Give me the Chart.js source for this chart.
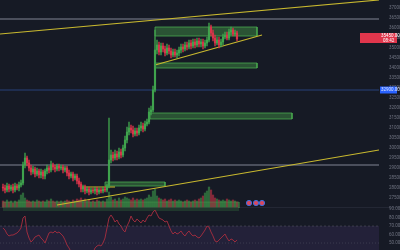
<!DOCTYPE html>
<html><head><meta charset="utf-8">
<script src="https://cdn.jsdelivr.net/npm/chart.js@4.4.1/dist/chart.umd.min.js"></script>
<style>html,body{margin:0;padding:0;background:#161a25;overflow:hidden}#wrap{width:400px;height:250px;position:relative}</style>
</head><body><div id="wrap"><canvas id="c" width="400" height="250"></canvas></div>
<script>
const openP = [28050,28000,27900,28100,27950,28050,27900,28100,28000,28150,
28250,29150,29500,29250,29000,28800,28950,28700,28850,28650,
28800,28600,28850,29000,28900,29150,29050,28950,29100,29000,
29050,28900,29000,28750,28600,28700,28500,28600,28350,28200,
27950,28050,27850,27950,27800,27900,27850,27950,27800,27900,
27850,27950,27900,28100,29400,29650,29500,29700,29550,29800,
29650,30000,30400,30800,31000,30900,30700,30850,30750,31000,
31100,30950,31200,31300,31800,31900,32900,34900,35150,34800,
35100,34950,34750,35000,34850,34650,34800,34650,34750,34900,
35050,34950,35150,35050,35250,35100,35300,35150,35350,35200,
35300,35100,35250,35400,36050,35750,35500,35250,35400,35150,
35300,35550,35650,35500,35800,35900,35700,35750];
const highP = [28200,28150,28250,28200,28150,28200,28250,28200,28300,28400,
29300,29750,29600,29400,29150,29100,29050,29000,28950,28950,
28900,28950,29150,29100,29350,29250,29150,29200,29200,29150,
29150,29100,29100,28900,28800,28800,28700,28700,28500,28300,
28150,28150,28050,28050,28000,28000,28050,28050,28000,28000,
28050,28050,28200,31500,29900,29800,29900,29850,30000,29950,
30150,30600,31050,31300,31150,31100,31000,31000,31150,31300,
31250,31350,31450,32000,32100,33100,35900,35400,35300,35250,
35250,35100,35200,35150,35000,34950,34950,34900,35050,35200,
35200,35300,35300,35400,35400,35450,35450,35500,35500,35450,
35450,35400,35550,36250,36150,35900,35650,35550,35550,35450,
35700,35800,35800,35950,36050,36000,35900,35850];
const lowP = [27850,27750,27800,27800,27850,27750,27800,27900,27850,28050,
28150,29000,29100,28850,28650,28700,28550,28600,28500,28500,
28450,28450,28700,28750,28800,28900,28800,28850,28850,28900,
28750,28800,28600,28450,28500,28350,28400,28200,28050,27800,
27800,27700,27750,27650,27700,27750,27700,27650,27700,27750,
27750,27800,27800,28000,29250,29350,29400,29400,29450,29500,
29550,29850,30250,30650,30750,30550,30600,30600,30650,30850,
30800,30850,31100,31200,31650,31800,32800,34700,34650,34650,
34800,34600,34650,34700,34500,34550,34550,34500,34600,34750,
34800,34850,34900,34950,34950,35000,35000,35050,35050,35050,
34950,35000,35100,35300,35600,35350,35100,35150,35000,35050,
35150,35450,35400,35400,35650,35600,35600,35350];
const closeP = [28000,27900,28100,27950,28050,27900,28100,28000,28150,28250,
29150,29500,29250,29000,28800,28950,28700,28850,28650,28800,
28600,28850,29000,28900,29150,29050,28950,29100,29000,29050,
28900,29000,28750,28600,28700,28500,28600,28350,28200,27950,
28050,27850,27950,27800,27900,27850,27950,27800,27900,27850,
27950,27900,28100,29400,29650,29500,29700,29550,29800,29650,
30000,30400,30800,31000,30900,30700,30850,30750,31000,31100,
30950,31200,31300,31800,31900,32900,34900,35150,34800,35100,
34950,34750,35000,34850,34650,34800,34650,34750,34900,35050,
34950,35150,35050,35250,35100,35300,35150,35350,35200,35300,
35100,35250,35400,36050,35750,35500,35250,35400,35150,35300,
35550,35650,35500,35800,35900,35700,35750,35450];
const volume = [6,5,7,5,6,4,6,5,7,12,
14,9,7,6,5,6,5,7,6,5,
6,5,7,6,8,6,5,6,5,6,
5,6,7,6,5,7,6,8,7,9,
7,8,6,7,5,6,5,7,6,5,
6,5,8,15,10,7,8,6,9,7,
8,10,9,8,7,9,7,8,7,8,
7,8,9,12,10,16,18,11,9,8,
7,8,6,7,8,6,7,6,7,6,
5,6,7,6,5,6,7,6,8,9,
11,14,16,20,17,12,9,8,7,6,
7,6,8,7,6,7,6,5];
const rsiValues = [67.7,65.3,60.6,58.3,59.4,59.4,60.6,61.8,64.2,67.7,
79.4,81.8,63,55.9,51.2,53.6,57.1,58.3,59.4,55.9,
53.6,50,55.9,61.8,63,61.8,64.2,61.8,63,60.6,
58.3,53.6,47.7,44.2,39.5,34.8,32.4,34.8,32.4,27.7,
30,32.4,34.8,33.6,35.9,38.3,44.2,46.5,47.7,46.5,
50,55.9,67.7,79.4,83,79.4,74.7,77.1,72.4,70,
65.3,63,70,74.7,81.8,77.1,74.7,78.3,75.9,73.6,
77.1,74.7,79.4,83,81.8,86.5,88.8,84.1,79.4,78.3,
77.1,74.7,75.9,70,64.2,60.6,63,60.6,61.8,64.2,
60.6,58.3,61.8,64.2,60.6,58.3,59.4,57.1,55.9,58.3,
61.8,65.3,70,68.8,63,58.3,52.4,51.2,53.6,55.9,
58.3,60.6,55.9,52.4,54.8,53.6,51.2,53.6];
const priceTicks = [37000,36500,36000,35500,35000,34500,34000,33500,33000,32500,32000,31500,31000,30500,30000,29500,29000,28500,28000,27500];
const rsiTicks = [90,80,70,60,50];
const rsiBand = [70,30];
const blueLevel = 32900;
const grayLevels = [36450,29150];
const trendLines = [[[-1.5,35700],[188,37400]],[[27,27150],[188,29900]],[[76,34150],[129.5,35650]],[[38.5,28050],[56,28050]]];
const zones = [[76,127,36050,35600],[76,127,34250,34000],[73.5,144.5,31750,31450],[51,81,28300,28100]];
const volumeZone = [0,118,27300,26850];
const eventMarks = [123,126.5,129.5];
const eventLevel = 27250;

const UP='#3fa34d', DN='#d8344a', YEL='#c9b92f';
const X0=-1.5, X1=188;
const up = i => closeP[i] >= openP[i];

const datasets = [];
// event markers (null end points keep the layout free of point overflow padding)
const markData = [{x:X0,y:null}].concat(eventMarks.map(x=>({x, y:eventLevel})), [{x:X1,y:null}]);
datasets.push({type:'line', order:0, yAxisID:'y', showLine:false, borderWidth:0, data: markData,
  pointRadius: ctx => (ctx.raw && ctx.raw.y !== null) ? 2.6 : 0, pointHoverRadius:0,
  pointBorderWidth: ctx => (ctx.raw && ctx.raw.y !== null) ? 1 : 0,
  pointBackgroundColor:'#d9485f', pointBorderColor:'#3d6fe0'});
datasets.push({type:'line', order:1, yAxisID:'yRsi', data: rsiValues.map((v,i)=>({x:i,y:v})), borderColor:'#9b2c3e', borderWidth:1, pointRadius:0, pointHoverRadius:0, tension:0});
datasets.push({type:'bar', order:2, yAxisID:'y', grouped:false, barThickness:1.5,
  data: openP.map((o,i)=>({x:i, y:[o, closeP[i]===o ? o+15 : closeP[i]]})),
  backgroundColor: ctx => up(ctx.dataIndex)?UP:DN});
datasets.push({type:'bar', order:3, yAxisID:'y', grouped:false, barThickness:0.7,
  data: lowP.map((l,i)=>({x:i, y:[l, highP[i]]})),
  backgroundColor: ctx => up(ctx.dataIndex)?UP:DN});
grayLevels.forEach(v=>datasets.push({type:'line', order:5, yAxisID:'y', data:[{x:X0,y:v},{x:X1,y:v}], borderColor:'#4b4f5c', borderWidth:2, pointRadius:0, pointHoverRadius:0}));
datasets.push({type:'line', order:5, yAxisID:'y', data:[{x:X0,y:blueLevel},{x:X1,y:blueLevel}], borderColor:'#27407a', borderWidth:1, pointRadius:0, pointHoverRadius:0});
trendLines.forEach(l=>datasets.push({type:'line', order:4, yAxisID:'y', data:l.map(p=>({x:p[0],y:p[1]})), borderColor:YEL, borderWidth:1.2, pointRadius:0, pointHoverRadius:0}));
zones.forEach(z=>datasets.push({type:'line', order:9, yAxisID:'y',
  data:[{x:z[0],y:z[2]},{x:z[1],y:z[2]},{x:z[1],y:z[3]},{x:z[0],y:z[3]},{x:z[0],y:z[2]}],
  borderColor:'rgba(76,175,80,0.75)', borderWidth:1, pointRadius:0, pointHoverRadius:0, fill:'shape', backgroundColor:'rgba(76,175,80,0.38)'}));
datasets.push({type:'line', order:7, yAxisID:'y',
  data:[{x:volumeZone[0],y:volumeZone[2]},{x:volumeZone[1],y:volumeZone[2]},{x:volumeZone[1],y:volumeZone[3]},{x:volumeZone[0],y:volumeZone[3]},{x:volumeZone[0],y:volumeZone[2]}],
  borderColor:'rgba(76,175,80,0.35)', borderWidth:1, pointRadius:0, pointHoverRadius:0, fill:'shape', backgroundColor:'rgba(76,175,80,0.2)'});
datasets.push({type:'bar', order:8, yAxisID:'yVol', grouped:false, barThickness:1.6,
  data: volume.map((v,i)=>({x:i,y:v})),
  backgroundColor: ctx => up(ctx.dataIndex)?'rgba(63,163,77,0.55)':'rgba(216,52,74,0.55)'});
datasets.push({type:'line', order:12, yAxisID:'yRsi', data:[{x:X0,y:rsiBand[0]},{x:X1,y:rsiBand[0]}], borderColor:'rgba(120,123,134,0.35)', borderDash:[2,2], borderWidth:1, pointRadius:0, pointHoverRadius:0, fill:'+1', backgroundColor:'rgba(126,87,194,0.13)'});
datasets.push({type:'line', order:13, yAxisID:'yRsi', data:[{x:X0,y:rsiBand[1]},{x:X1,y:rsiBand[1]}], borderColor:'rgba(120,123,134,0.35)', borderWidth:1, pointRadius:0, pointHoverRadius:0});
datasets.push({type:'line', order:11, yAxisID:'yRsi', data:[{x:X0,y:50},{x:X1,y:50}], borderColor:'rgba(120,123,134,0.3)', borderDash:[1,2], borderWidth:1, pointRadius:0, pointHoverRadius:0});

const tickFont = {family:'Roboto', size:4.5};
const tickColor = '#6f7380';
const fitW = s => { s.width = 21; s.paddingTop = 0; s.paddingBottom = 0; };

const bgPlugin = {id:'bg', beforeDraw(chart){ const c=chart.ctx; c.save(); c.fillStyle='#161a25'; c.fillRect(0,0,chart.width,chart.height);
  const r=chart.scales.yRsi; c.fillStyle='#232734'; c.fillRect(0, Math.round(r.top)-1, chart.width, 1); c.restore(); }};
const labelPlugin = {id:'lbl', afterDraw(chart){
  const c=chart.ctx, y=chart.scales.y, a=chart.chartArea;
  const last = closeP[closeP.length-1];
  const py = y.getPixelForValue(last);
  c.save();
  c.fillStyle='#e0364c'; c.fillRect(a.right-19, py-6, 37, 10);
  c.fillStyle='#ffffff'; c.font='4.5px Roboto'; c.textBaseline='middle'; c.textAlign='left';
  c.fillText(last.toFixed(2), a.right+2, py-3.3);
  c.fillText('08:42', a.right+4, py+1.5);
  const by = y.getPixelForValue(blueLevel);
  c.fillStyle='#2962ff'; c.fillRect(a.right+1, by-3.5, 17, 7);
  c.fillStyle='#dfe6ff'; c.fillText(blueLevel.toFixed(2), a.right+2, by);
  c.restore();
}};

new Chart(document.getElementById('c'), {
  type:'line',
  data:{datasets},
  options:{
    responsive:false, animation:false, events:[],
    layout:{padding:0},
    plugins:{legend:{display:false}, tooltip:{enabled:false}},
    scales:{
      x:{type:'linear', min:X0, max:X1, display:false, offset:false},
      y:{type:'linear', position:'right', stack:'pane', stackWeight:208, min:27000, max:37400,
         afterBuildTicks: s => { s.ticks = priceTicks.map(v=>({value:v})); },
         afterFit: fitW,
         grid:{display:false}, border:{display:false},
         ticks:{autoSkip:false, padding:2, color:tickColor, font:tickFont, callback:v=>Number(v).toFixed(2)}},
      yRsi:{type:'linear', axis:'y', position:'right', stack:'pane', stackWeight:42, min:41.8, max:91.2,
         afterBuildTicks: s => { s.ticks = rsiTicks.map(v=>({value:v})); },
         afterFit: fitW,
         grid:{display:false}, border:{display:false},
         ticks:{autoSkip:false, padding:2, color:tickColor, font:tickFont, callback:v=>Number(v).toFixed(2)}},
      yVol:{type:'linear', axis:'y', position:'left', display:false, min:-43, max:207}
    }
  },
  plugins:[bgPlugin, labelPlugin]
});
</script></body></html>
